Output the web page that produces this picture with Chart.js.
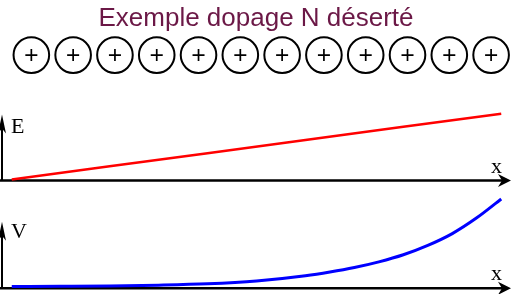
<!DOCTYPE html>
<html>
<head>
<meta charset="utf-8">
<script src="https://cdn.jsdelivr.net/npm/chart.js@4/dist/chart.umd.min.js"></script>
<style>
  html, body { margin: 0; padding: 0; background: #fff; }
  #wrap { position: relative; width: 512px; height: 294px; overflow: hidden; background: #fff; }
  canvas { position: absolute; left: 0; }
</style>
</head>
<body>
<div id="wrap">
  <canvas id="cA" width="512" height="80" style="top:0px"></canvas>
  <canvas id="cB" width="512" height="95" style="top:95px"></canvas>
  <canvas id="cC" width="512" height="104" style="top:190px"></canvas>
</div>
<script>
// ---- data ----
const titleText = 'Exemple dopage N déserté';
const chargePositions = [1, 2, 3, 4, 5, 6, 7, 8, 9, 10, 11, 12];
const chargeLevel = [0, 0, 0, 0, 0, 0, 0, 0, 0, 0, 0, 0];
const xE = [0, 2, 4, 6, 8, 10];
const fieldE = [0, 2, 4, 6, 8, 10];
const xV = [0, 1, 2, 3, 4, 5, 6, 6.5, 7, 7.5, 8, 8.5, 9, 9.5, 10];
const potentialV = [0, 0.03, 0.07, 0.15, 0.3, 0.62, 1.22, 1.65, 2.17, 2.82, 3.63, 4.7, 6.05, 7.85, 10];
const labelE = 'E';
const labelV = 'V';
const labelX = 'x';

// ---- axis plugin ----
const axisArrows = {
  id: 'axisArrows',
  beforeDatasetsDraw(chart, args, o) {
    const ctx = chart.ctx;
    const { left, right, bottom } = chart.chartArea;
    const ax = left + 2;
    const top = bottom - o.len;
    ctx.save();
    ctx.strokeStyle = '#000';
    ctx.fillStyle = '#000';
    // horizontal axis
    ctx.lineWidth = 2.5;
    ctx.beginPath();
    ctx.moveTo(0, bottom);
    ctx.lineTo(right - 8, bottom);
    ctx.stroke();
    ctx.beginPath();
    ctx.moveTo(right - 1, bottom);
    ctx.lineTo(right - 14, bottom - 6.5);
    ctx.lineTo(right - 10, bottom);
    ctx.lineTo(right - 14, bottom + 6.5);
    ctx.closePath();
    ctx.fill();
    // vertical axis
    ctx.lineWidth = 2;
    ctx.beginPath();
    ctx.moveTo(ax, bottom);
    ctx.lineTo(ax, top + 8);
    ctx.stroke();
    ctx.beginPath();
    ctx.moveTo(ax, top);
    ctx.lineTo(ax + 4, top + 19);
    ctx.lineTo(ax, top + 14);
    ctx.lineTo(ax - 4, top + 19);
    ctx.closePath();
    ctx.fill();
    // labels
    ctx.font = '22px "Liberation Serif"';
    ctx.textBaseline = 'alphabetic';
    ctx.textAlign = 'left';
    ctx.fillText(o.yLabel, 11, bottom - o.yOff);
    ctx.fillText(o.xLabel, 491, bottom - o.xOff);
    ctx.restore();
  }
};

const baseOpts = {
  responsive: false,
  devicePixelRatio: 1,
  animation: false,
  events: []
};

// ---- chart A: title + fixed charges ----
new Chart(document.getElementById('cA'), {
  type: 'scatter',
  data: {
    datasets: [
      {
        data: chargePositions.map((p, i) => ({ x: p, y: chargeLevel[i] })),
        pointStyle: 'circle', pointRadius: 17.8, borderWidth: 2,
        borderColor: '#000', backgroundColor: 'rgba(255,255,255,0)', clip: false
      },
      {
        data: chargePositions.map((p, i) => ({ x: p, y: chargeLevel[i] })),
        pointStyle: 'cross', pointRadius: 6, borderWidth: 1.7,
        borderColor: '#000', backgroundColor: '#000', clip: false
      }
    ]
  },
  options: Object.assign({}, baseOpts, {
    layout: { autoPadding: false, padding: { left: 0, right: 0, top: 0, bottom: 4 } },
    scales: {
      x: { type: 'linear', display: false, min: 0.25, max: 12.5 },
      y: { display: false, min: -1, max: 1 }
    },
    plugins: {
      legend: { display: false }, tooltip: { enabled: false },
      title: {
        display: true, text: titleText, color: '#6b1846',
        font: { family: '"Liberation Sans", Arial, sans-serif', size: 26, weight: 'normal' },
        padding: { top: 3, bottom: 0 }
      }
    }
  })
});

// ---- chart B: field E ----
new Chart(document.getElementById('cB'), {
  type: 'line',
  data: {
    datasets: [{
      data: xE.map((x, i) => ({ x: x, y: fieldE[i] })),
      borderColor: '#ff0000', borderWidth: 2.5, pointRadius: 0, fill: false, clip: false
    }]
  },
  plugins: [axisArrows],
  options: Object.assign({}, baseOpts, {
    layout: { autoPadding: false, padding: { left: 0, right: 0, top: 18, bottom: 9.5 } },
    scales: {
      x: { type: 'linear', display: false, min: -0.24, max: 10.22 },
      y: { display: false, min: -0.15, max: 10.1 }
    },
    plugins: {
      legend: { display: false }, tooltip: { enabled: false },
      axisArrows: { len: 66, yLabel: labelE, xLabel: labelX, yOff: 47.5, xOff: 7.5 }
    }
  })
});

// ---- chart C: potential V ----
new Chart(document.getElementById('cC'), {
  type: 'line',
  data: {
    datasets: [{
      data: xV.map((x, i) => ({ x: x, y: potentialV[i] })),
      borderColor: '#0000ff', borderWidth: 3, pointRadius: 0, fill: false,
      cubicInterpolationMode: 'monotone', clip: false
    }]
  },
  plugins: [axisArrows],
  options: Object.assign({}, baseOpts, {
    layout: { autoPadding: false, padding: { left: 0, right: 0, top: 7, bottom: 5.7 } },
    scales: {
      x: { type: 'linear', display: false, min: -0.24, max: 10.22 },
      y: { display: false, min: -0.206, max: 10.23 }
    },
    plugins: {
      legend: { display: false }, tooltip: { enabled: false },
      axisArrows: { len: 66.6, yLabel: labelV, xLabel: labelX, yOff: 50, xOff: 8 }
    }
  })
});
</script>
</body>
</html>
